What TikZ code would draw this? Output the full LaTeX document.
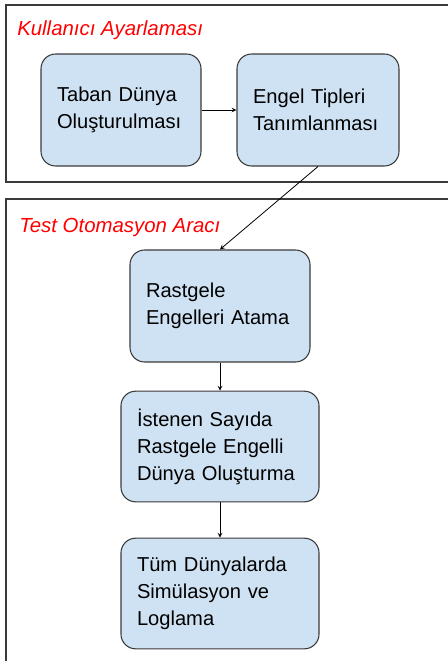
\documentclass[tikz,border=0pt]{standalone}
\usepackage{fontspec}
\setmainfont{Liberation Sans}
\definecolor{kutumavi}{HTML}{CFE2F3}
\definecolor{kenar}{HTML}{3A3A3A}
\begin{document}
\begin{tikzpicture}[x=0.75pt, y=-0.75pt]
	\tikzstyle{Kutu} = [rectangle, rounded corners=11pt, draw=kenar, line width=0.8pt, fill=kutumavi, align=left, inner xsep=12pt, inner ysep=0pt, font=\fontsize{15.1}{20.2}\selectfont]
	\tikzstyle{Cerceve} = [draw=kenar, line width=0.9pt]
	\tikzstyle{Baslik} = [anchor=base west, inner sep=0pt, text=red, font=\fontsize{15.3}{18}\selectfont\itshape]
	\tikzstyle{arrow} = [line width=0.6pt, ->, >=stealth]
	
	\clip (0,0) rectangle (448,661);
	\draw [Cerceve] (6,5) rectangle (470,182);
	\draw [Cerceve] (6,199) rectangle (470,700);
	\node (k1) [Baslik] at (17,35) {Kullanıcı Ayarlaması};
	\node (k2) [Baslik] at (19,232) {Test Otomasyon Aracı};
	
	\node (taban) [Kutu, minimum width=120pt, minimum height=84pt, text width=96pt] at (121,110) {Taban Dünya\\Oluşturulması};
	\node (engel) [Kutu, minimum width=121.5pt, minimum height=84pt, text width=97.5pt] at (318,110) {Engel Tipleri\\Tanımlanması};
	\node (atama) [Kutu, minimum width=135pt, minimum height=84pt, text width=111pt] at (220,306) {Rastgele\\Engelleri Atama};
	\node (dunya) [Kutu, minimum width=148.5pt, minimum height=83pt, text width=124.5pt] at (220,446.5) {İstenen Sayıda\\Rastgele Engelli\\Dünya Oluşturma};
	\node (simul) [Kutu, minimum width=148.5pt, minimum height=83pt, text width=124.5pt] at (220,593.5) {Tüm Dünyalarda\\Simülasyon ve\\Loglama};
	
	\draw [arrow] (taban) -- (engel);
	\draw [arrow] (engel.south) -- (atama.north);
	\draw [arrow] (atama) -- (dunya);
	\draw [arrow] (dunya) -- (simul);
\end{tikzpicture}
\end{document}
